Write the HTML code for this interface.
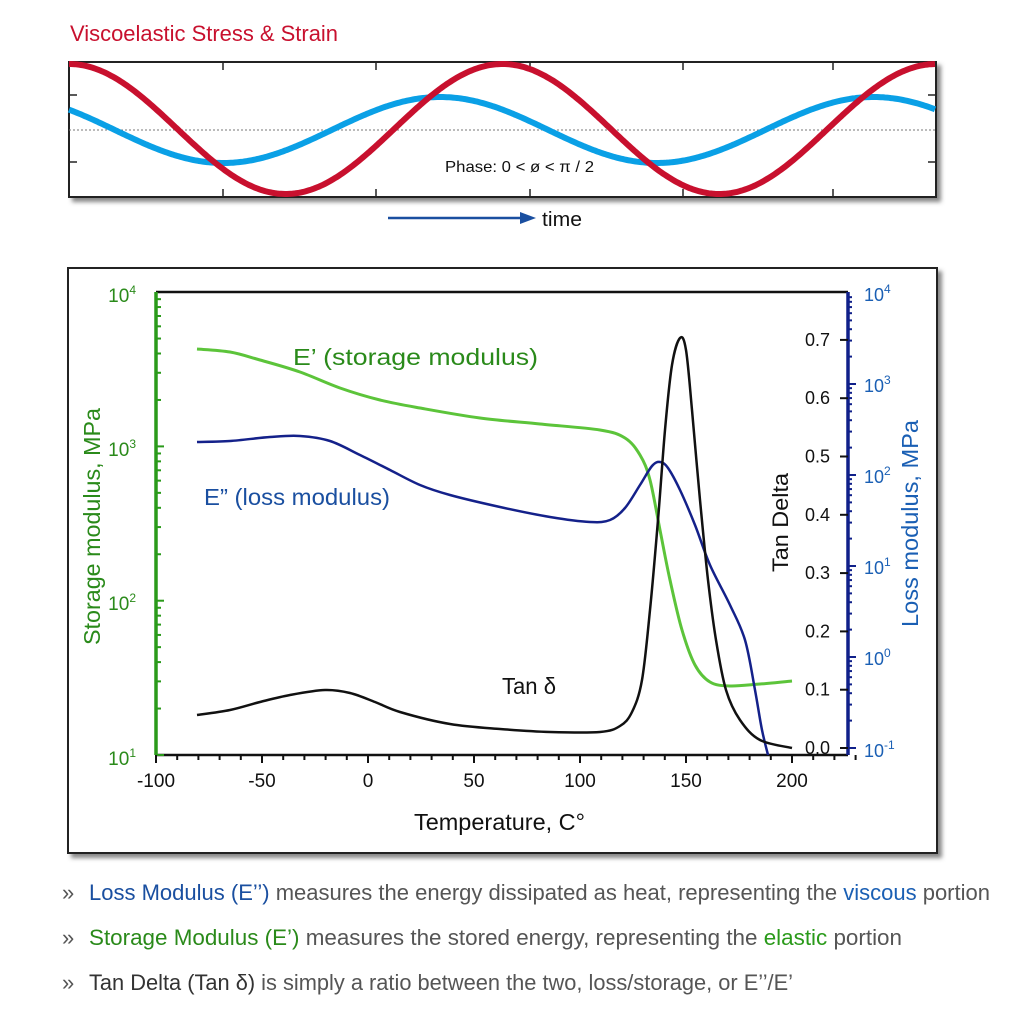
<!DOCTYPE html>
<html><head><meta charset="utf-8"><style>
body{margin:0;background:#fff;width:1024px;height:1024px;overflow:hidden;font-family:"Liberation Sans",sans-serif}
svg{position:absolute;left:0;top:0}
</style></head><body>
<svg width="1024" height="1024" viewBox="0 0 1024 1024" font-family="Liberation Sans, sans-serif">
<defs><filter id="sh" x="-5%" y="-5%" width="115%" height="115%"><feDropShadow dx="4" dy="4" stdDeviation="2" flood-color="#555" flood-opacity="0.7"/></filter></defs>
<text x="70" y="41" font-size="22" fill="#c8102e" textLength="268" lengthAdjust="spacingAndGlyphs">Viscoelastic Stress &amp; Strain</text>
<rect x="69" y="62" width="867" height="135" fill="#fff" stroke="#222" stroke-width="2" filter="url(#sh)"/>
<line x1="69" y1="130" x2="936" y2="130" stroke="#777" stroke-dasharray="2,2"/>
<g stroke="#222" stroke-width="1.5" id="tt"></g>
<path id="blue" fill="none" stroke="#0aa0e6" stroke-width="6"/>
<path id="red" fill="none" stroke="#c8102e" stroke-width="6"/>
<text x="445" y="172" font-size="16" fill="#111" textLength="149" lengthAdjust="spacingAndGlyphs">Phase: 0 &lt; ø &lt; π / 2</text>
<line x1="388" y1="218" x2="522" y2="218" stroke="#1a4fa0" stroke-width="2.5"/>
<polygon points="520,212 536,218 520,224" fill="#1a4fa0"/>
<text x="542" y="226" font-size="20" fill="#111" textLength="40" lengthAdjust="spacingAndGlyphs">time</text>

<rect x="68" y="268" width="869" height="585" fill="#fff" stroke="#222" stroke-width="2" filter="url(#sh)"/>
<line x1="156" y1="292" x2="848" y2="292" stroke="#111" stroke-width="2.5"/>
<line x1="156" y1="755" x2="848" y2="755" stroke="#111" stroke-width="2.5"/>
<line x1="156" y1="292" x2="156" y2="755" stroke="#2a9a1a" stroke-width="3.5"/>
<line x1="848" y1="292" x2="848" y2="755" stroke="#10208a" stroke-width="3.5"/>
<g id="ax"></g>
<g font-size="19" fill="#111" text-anchor="middle">
<text x="156" y="787">-100</text><text x="262" y="787">-50</text><text x="368" y="787">0</text><text x="474" y="787">50</text><text x="580" y="787">100</text><text x="686" y="787">150</text><text x="792" y="787">200</text>
</g>
<text x="414" y="830" font-size="23" fill="#111" textLength="171" lengthAdjust="spacingAndGlyphs">Temperature, C°</text>
<g font-size="19" fill="#2a8a1a" text-anchor="end">
<text x="136" y="302">10<tspan font-size="12" dy="-8">4</tspan></text>
<text x="136" y="456">10<tspan font-size="12" dy="-8">3</tspan></text>
<text x="136" y="610">10<tspan font-size="12" dy="-8">2</tspan></text>
<text x="136" y="765">10<tspan font-size="12" dy="-8">1</tspan></text>
</g>
<text transform="translate(100,645) rotate(-90)" font-size="23" fill="#2a8a1a" textLength="237" lengthAdjust="spacingAndGlyphs">Storage modulus, MPa</text>
<g font-size="18" fill="#1a5fb4">
<text x="864" y="301">10<tspan font-size="12" dy="-8">4</tspan></text>
<text x="864" y="392">10<tspan font-size="12" dy="-8">3</tspan></text>
<text x="864" y="483">10<tspan font-size="12" dy="-8">2</tspan></text>
<text x="864" y="574">10<tspan font-size="12" dy="-8">1</tspan></text>
<text x="864" y="665">10<tspan font-size="12" dy="-8">0</tspan></text>
<text x="864" y="757">10<tspan font-size="12" dy="-8">-1</tspan></text>
</g>
<text transform="translate(918,627) rotate(-90)" font-size="23" fill="#1a5fb4" textLength="207" lengthAdjust="spacingAndGlyphs">Loss modulus, MPa</text>
<g font-size="18" fill="#111" text-anchor="end" id="td"></g>
<text transform="translate(788,572) rotate(-90)" font-size="22" fill="#111" textLength="99" lengthAdjust="spacingAndGlyphs">Tan Delta</text>
<path id="g" fill="none" stroke="#5cc43a" stroke-width="3"/>
<path id="bl" fill="none" stroke="#14218a" stroke-width="2.5"/>
<path id="bk" fill="none" stroke="#111" stroke-width="2.5"/>
<text x="293" y="365" font-size="23" fill="#2a8a1a" textLength="245" lengthAdjust="spacingAndGlyphs">E’ (storage modulus)</text>
<text x="204" y="505" font-size="23" fill="#1a4fa0" textLength="186" lengthAdjust="spacingAndGlyphs">E” (loss modulus)</text>
<text x="502" y="694" font-size="23" fill="#111" textLength="54" lengthAdjust="spacingAndGlyphs">Tan δ</text>
<g font-size="22">
<text x="62" y="900" fill="#555">»</text><text x="89" y="900" fill="#1a4fa0" textLength="901" lengthAdjust="spacingAndGlyphs">Loss Modulus (E’’) <tspan fill="#555">measures the energy dissipated as heat, representing the </tspan><tspan fill="#1a5fb4">viscous</tspan><tspan fill="#555"> portion</tspan></text>
<text x="62" y="945" fill="#555">»</text><text x="89" y="945" fill="#2a8a1a" textLength="813" lengthAdjust="spacingAndGlyphs">Storage Modulus (E’) <tspan fill="#555"> measures the stored energy, representing the </tspan><tspan fill="#2a9a1a">elastic</tspan><tspan fill="#555"> portion</tspan></text>
<text x="62" y="990" fill="#555">»</text><text x="89" y="990" fill="#333" textLength="704" lengthAdjust="spacingAndGlyphs">Tan Delta (Tan δ) <tspan fill="#555">is simply a ratio between the two, loss/storage, or E’’/E’</tspan></text>
</g>
</svg>
<script>
var P=433.5,r="",b="";
for(var x=69;x<=936;x+=2){var a=2*Math.PI*(x-69)/P;r+=(x==69?"M":"L")+x+","+(129-65*Math.cos(a)).toFixed(1);
var c=2*Math.PI*(x-440)/P;b+=(x==69?"M":"L")+x+","+(130-33*Math.cos(c)).toFixed(1);}
document.getElementById("red").setAttribute("d",r);document.getElementById("blue").setAttribute("d",b);
function cr(p){var d="M"+p[0][0]+","+p[0][1];for(var i=0;i<p.length-1;i++){var p0=p[i-1]||p[i],p1=p[i],p2=p[i+1],p3=p[i+2]||p2;
d+=" C"+(p1[0]+(p2[0]-p0[0])/6).toFixed(1)+","+(p1[1]+(p2[1]-p0[1])/6).toFixed(1)+" "+(p2[0]-(p3[0]-p1[0])/6).toFixed(1)+","+(p2[1]-(p3[1]-p1[1])/6).toFixed(1)+" "+p2[0]+","+p2[1];}return d;}
document.getElementById("bk").setAttribute("d",cr([[197,715],[230,710],[260,702],[290,695],[325,690],[350,693],[375,702],[400,712],[450,724],[500,729],[550,732],[600,732],[620,726],[632,712],[642,680],[650,610],[658,520],[665,430],[672,365],[680,338],[686,350],[692,410],[700,500],[708,580],[716,640],[726,690],[740,720],[760,740],[792,748]]));
document.getElementById("g").setAttribute("d",cr([[197,349],[230,352],[260,360],[300,372],[340,388],[380,400],[420,408],[480,418],[540,424],[600,430],[625,438],[640,455],[650,480],[660,530],[670,580],[682,630],[695,665],[710,682],[730,686],[760,684],[792,681]]));
document.getElementById("bl").setAttribute("d",cr([[197,442],[230,441],[270,437],[300,436],[330,441],[360,455],[390,470],[420,485],[450,495],[500,507],[550,517],[590,522],[610,520],[625,508],[640,485],[652,466],[660,462],[668,468],[680,490],[695,525],[710,565],[730,605],[745,640],[755,690],[762,730],[768,755]]));
var h="";
[223,376,530,683,833].forEach(function(x){h+='<line x1="'+x+'" y1="62" x2="'+x+'" y2="70"/><line x1="'+x+'" y1="197" x2="'+x+'" y2="189"/>';});
[95,162].forEach(function(y){h+='<line x1="69" y1="'+y+'" x2="77" y2="'+y+'"/><line x1="936" y1="'+y+'" x2="928" y2="'+y+'"/>';});
document.getElementById("tt").innerHTML=h;
h="";
for(var d=0;d<3;d++)for(var k=1;k<10;k++){var y=755-154.3*(d+Math.log10(k));h+='<line x1="156" y1="'+y+'" x2="'+(k==1?164:161)+'" y2="'+y+'" stroke="#2a9a1a" stroke-width="2"/>';}
for(var d=0;d<5;d++)for(var k=1;k<10;k++){var y=748-91*(d+Math.log10(k));h+='<line x1="848" y1="'+y+'" x2="'+(k==1?856:852)+'" y2="'+y+'" stroke="#10208a" stroke-width="2"/>';}
for(var t=-100;t<=230;t+=10){var x=368+2.12*t;h+='<line x1="'+x+'" y1="755" x2="'+x+'" y2="'+(t%50==0?763:760)+'" stroke="#111" stroke-width="2"/>';}
var s="";
for(var i=0;i<=7;i++){var y=748-58.3*i;h+='<line x1="840" y1="'+y+'" x2="848" y2="'+y+'" stroke="#111" stroke-width="2"/>';s+='<text x="830" y="'+(y+6)+'">'+(i/10).toFixed(1)+'</text>';}
document.getElementById("ax").innerHTML=h;document.getElementById("td").innerHTML=s;
</script>
</body></html>
